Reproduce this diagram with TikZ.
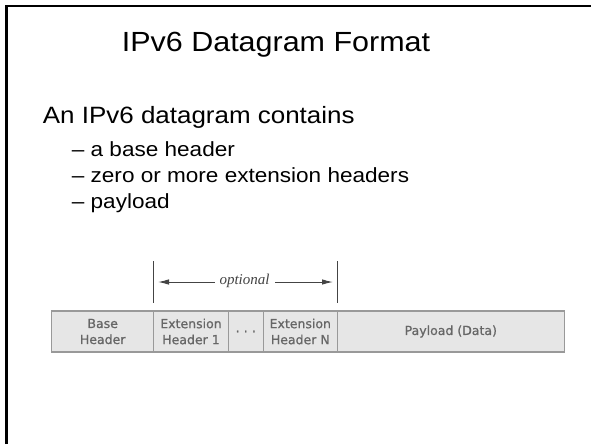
\documentclass[tikz,border=0pt]{standalone}
\usepackage{fontspec}
\setmainfont{Liberation Sans}[FakeStretch=1.1]
\newfontfamily\boxfont{DejaVu Sans}[FakeBold=0.8]
\newfontfamily\optfont{Liberation Serif}
\usetikzlibrary{arrows.meta}
\definecolor{boxfill}{HTML}{E6E6E6}
\definecolor{boxline}{HTML}{999999}
\definecolor{boxtext}{HTML}{666666}
\definecolor{barline}{HTML}{444444}
\begin{document}
\begin{tikzpicture}[x=1pt,y=-1pt,
  field/.style={draw=boxline,fill=boxfill,line width=1.3pt,inner sep=0pt,
    minimum height=41pt,text=boxtext,align=center,
    font=\boxfont\fontsize{12.5}{16}\selectfont},
  txt/.style={anchor=base west,inner sep=0pt},
  bar/.style={draw=barline,line width=1.1pt},
  dim/.style={draw=barline,line width=1pt,{Latex[length=11pt,width=5.5pt]}-{Latex[length=11pt,width=5.5pt]}}
]
\useasboundingbox (0,0) rectangle (591,444);
% slide frame
\draw[line width=2.2pt] (6.5,444) -- (6.5,6.3) -- (591,6.3);
% texts
\node[anchor=base,inner sep=0pt,font=\fontsize{27.7}{30}\selectfont] (title) at (276,51.7) {IPv6 Datagram Format};
\node[txt,font=\fontsize{23.6}{26}\selectfont] (intro) at (42.7,123) {An IPv6 datagram contains};
\node[txt,font=\fontsize{20.5}{24}\selectfont] (b1) at (71.7,156.7) {– a base header};
\node[txt,font=\fontsize{20.5}{24}\selectfont] (b2) at (71.7,182.7) {– zero or more extension headers};
\node[txt,font=\fontsize{20.5}{24}\selectfont] (b3) at (71.7,208.3) {– payload};
% datagram fields
\node[field,minimum width=102pt] (base) at (102.7,331.5) {Base\\Header};
\node[field,minimum width=74.6pt] (ext1) at (191,331.5) {Extension\\Header 1};
\node[field,minimum width=35pt] (dots) at (245.8,331.5) {.\,\,.\,\,.};
\node[field,minimum width=74pt] (extn) at (300.3,331.5) {Extension\\Header N};
\node[field,minimum width=227pt] (pay) at (450.8,331.5) {Payload (Data)};
% optional span
\coordinate (lt) at (153.7,261);
\coordinate (lb) at (153.7,303);
\coordinate (rt) at (337.3,261);
\coordinate (rb) at (337.3,303);
\draw[bar] (lt) -- (lb);
\draw[bar] (rt) -- (rb);
\coordinate (al) at (158,282);
\coordinate (ar) at (333,282);
\draw[dim] (al) -- (ar);
\node[fill=white,inner xsep=5pt,inner ysep=1pt,text=barline,font=\optfont\itshape\fontsize{15}{16}\selectfont] (opt) at (244.5,281) {optional};
\end{tikzpicture}
\end{document}
